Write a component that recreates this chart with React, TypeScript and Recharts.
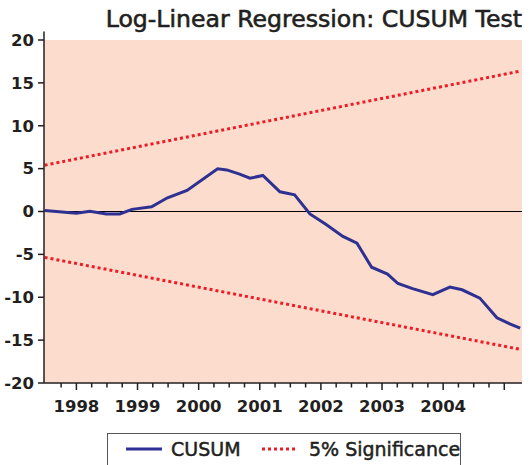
import {
  LineChart,
  Line,
  XAxis,
  YAxis,
  CartesianGrid,
  ReferenceLine,
} from "recharts";

// CUSUM path (time in decimal years)
const cusumYears = [
  1997.48, 1998.0, 1998.22, 1998.49, 1998.71, 1998.91, 1999.23, 1999.49,
  1999.81, 2000.31, 2000.46, 2000.67, 2000.84, 2001.05, 2001.33, 2001.57,
  2001.82, 2002.08, 2002.36, 2002.59, 2002.83, 2003.09, 2003.26, 2003.5,
  2003.83, 2004.11, 2004.31, 2004.6, 2004.88, 2005.09, 2005.26,
];
const cusumValues = [
  0.12, -0.2, 0.03, -0.3, -0.28, 0.25, 0.55, 1.6, 2.45, 4.97, 4.85, 4.35,
  3.88, 4.2, 2.3, 1.94, -0.28, -1.5, -2.9, -3.7, -6.5, -7.3, -8.4, -9.0, -9.7,
  -8.82, -9.13, -10.1, -12.4, -13.1, -13.6,
];

// 5% significance bands (straight lines, start and end)
const bandYears = [1997.48, 2005.28];
const upperBand = [5.4, 16.4];
const lowerBand = [-5.35, -16.1];

const yTicks = [-20, -15, -10, -5, 0, 5, 10, 15, 20];
const yearLabels = [1998, 1999, 2000, 2001, 2002, 2003, 2004];
const quarterTicks = Array.from({ length: 30 }, (_, i) => 1997.75 + i * 0.25);

const X_DOMAIN: [number, number] = [1997.47, 2005.29];
const FONT = "'DejaVu Sans', sans-serif";
const INK = "#231f20";
const PINK = "#fbdccd";
const NAVY = "#2e3192";
const RED = "#ee1c25";

const cusumData = cusumYears.map((t, i) => ({ t, cusum: cusumValues[i] }));
const bandData = bandYears.map((t, i) => ({
  t,
  upper: upperBand[i],
  lower: lowerBand[i],
}));

const XTick = (props: any) => {
  const { x, y, payload } = props;
  const v = payload.value;
  const major = Math.abs(v - Math.round(v)) < 0.01;
  const label = major && yearLabels.includes(Math.round(v));
  return (
    <g>
      <line x1={x} y1={y} x2={x} y2={y + (major ? 7 : 4.5)} stroke={INK} strokeWidth={1.5} />
      {label && (
        <text
          x={x}
          y={y + 29}
          textAnchor="middle"
          fill={INK}
          fontFamily={FONT}
          fontSize={16.5}
          fontWeight="bold"
        >
          {Math.round(v)}
        </text>
      )}
    </g>
  );
};

const Legend = () => (
  <div
    style={{
      position: "absolute",
      left: 107,
      top: 433,
      width: 354,
      height: 32,
      border: "1.5px solid #555",
      borderBottom: "none",
      background: "#fff",
      boxSizing: "border-box",
    }}
  >
    <svg width={354} height={32} style={{ position: "absolute", left: -1.5, top: -1.5 }}>
      <line x1={19} y1={16} x2={55} y2={16} stroke={NAVY} strokeWidth={3} />
      <text x={64} y={23} fill={INK} stroke={INK} strokeWidth={0.5} fontFamily={FONT} fontSize={19}>
        CUSUM
      </text>
      <line x1={155} y1={16} x2={190} y2={16} stroke={RED} strokeWidth={3} strokeDasharray="3 3" />
      <text x={202} y={23} fill={INK} stroke={INK} strokeWidth={0.5} fontFamily={FONT} fontSize={19}>
        5% Significance
      </text>
    </svg>
  </div>
);

export default function App() {
  return (
    <div
      style={{
        position: "absolute",
        left: 0,
        top: 0,
        width: 530,
        height: 465,
        background: "#fff",
        overflow: "hidden",
      }}
    >
      <svg width={530} height={34} style={{ position: "absolute", left: 0, top: 0 }}>
        <text
          x={522}
          y={26.7}
          textAnchor="end"
          fill={INK}
          stroke={INK}
          strokeWidth={0.6}
          fontFamily={FONT}
          fontSize={23.6}
        >
          Log-Linear Regression: CUSUM Test
        </text>
      </svg>
      <div style={{ position: "absolute", left: 0, top: 0 }}>
        <LineChart
          width={530}
          height={465}
          margin={{ top: 40, right: 8, bottom: 42, left: 0 }}
        >
          <CartesianGrid horizontal={false} vertical={false} fill={PINK} stroke="none" />
          <XAxis
            dataKey="t"
            type="number"
            domain={X_DOMAIN}
            allowDataOverflow
            ticks={quarterTicks}
            interval={0}
            height={40}
            tickSize={0}
            tickMargin={0}
            tick={<XTick />}
            axisLine={{ stroke: INK, strokeWidth: 1.5 }}
          />
          <YAxis
            type="number"
            domain={[-20, 20]}
            ticks={yTicks}
            interval={0}
            width={44}
            tickSize={6}
            tickMargin={4}
            tick={{ fill: INK, fontFamily: FONT, fontSize: 16.5, fontWeight: "bold" }}
            tickLine={{ stroke: INK, strokeWidth: 1.5 }}
            axisLine={{ stroke: INK, strokeWidth: 1.5 }}
          />
          <ReferenceLine
            segment={[
              { x: X_DOMAIN[0], y: 20 },
              { x: X_DOMAIN[0], y: 21 },
            ]}
            ifOverflow="visible"
            stroke={INK}
            strokeWidth={1.5}
          />
          <ReferenceLine y={0} stroke="#000" strokeWidth={1.2} />
          <Line
            data={bandData}
            dataKey="upper"
            stroke={RED}
            strokeWidth={3}
            strokeDasharray="3 3"
            dot={false}
            isAnimationActive={false}
          />
          <Line
            data={bandData}
            dataKey="lower"
            stroke={RED}
            strokeWidth={3}
            strokeDasharray="3 3"
            dot={false}
            isAnimationActive={false}
          />
          <Line
            data={cusumData}
            dataKey="cusum"
            stroke={NAVY}
            strokeWidth={3}
            dot={false}
            isAnimationActive={false}
          />
        </LineChart>
      </div>
      <Legend />
    </div>
  );
}
